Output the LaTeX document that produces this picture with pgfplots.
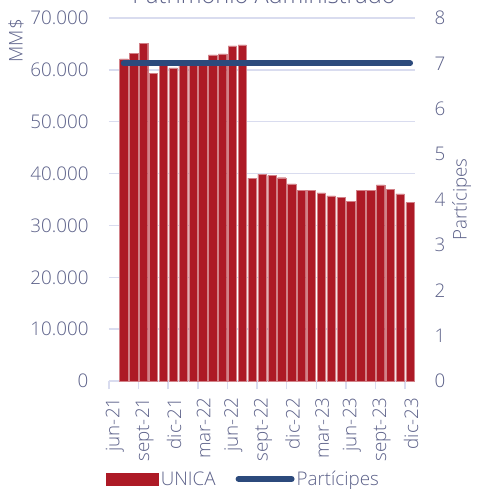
\documentclass[border=0pt]{standalone}
\usepackage{pgfplots}
\pgfplotsset{compat=1.18}
\usepackage{fontspec}
\setmainfont{Open Sans Light}
\definecolor{barred}{HTML}{AD1A26}
\definecolor{lineblue}{HTML}{2C4A7C}
\definecolor{txt}{HTML}{5C6189}
\definecolor{gridc}{HTML}{D9DCEF}
\begin{document}
\begin{tikzpicture}[font=\fontsize{18.8}{21}\selectfont]
\begin{axis}[
  scale only axis, width=306pt, height=363pt,
  xmin=0.5, xmax=31.5, ymin=0, ymax=70000,
  axis x line*=bottom, axis y line*=left,
  x axis line style={gridc, line width=1.5pt, -},
  y axis line style={draw=none},
  ybar, bar width=8.4pt,
  xtick={1,4,...,31},
  xticklabels={jun-21,sept-21,dic-21,mar-22,jun-22,sept-22,dic-22,mar-23,jun-23,sept-23,dic-23},
  x tick label style={rotate=90, anchor=east, text=txt, xshift=-13pt, yshift=-1pt},
  extra x ticks={0.5,3.5,...,30.5},
  extra x tick labels={},
  extra x tick style={major tick length=8pt, tick align=outside, tick style={gridc, line width=1.5pt}, grid=none},
  ytick={0,10000,...,70000},
  scaled y ticks=false,
  /pgf/number format/.cd, 1000 sep={.}, assume math mode=true, /pgfplots/.cd,
  y tick label style={text=txt, xshift=-17pt},
  major tick length=0pt,
  ymajorgrids, grid style={gridc, line width=1.5pt},
  clip=false,
]
\addplot[fill=barred, draw=barred!55!white, line width=0.3pt] coordinates {
(2,62100) (3,63200) (4,65100) (5,59300) (6,61000) (7,60400) (8,61000) (9,61100)
(10,61300) (11,62900) (12,63100) (13,64600) (14,64800) (15,39100) (16,39900)
(17,39600) (18,39200) (19,38000) (20,36800) (21,36800) (22,36300) (23,35700)
(24,35400) (25,34600) (26,36800) (27,36800) (28,37800) (29,37000) (30,36100)
(31,34400)};
\end{axis}
\begin{axis}[
  scale only axis, width=306pt, height=363pt,
  xmin=0.5, xmax=31.5, ymin=0, ymax=8,
  axis x line=none, axis y line*=right,
  y axis line style={draw=none},
  ytick={0,1,...,8},
  /pgf/number format/.cd, assume math mode=true, /pgfplots/.cd,
  major tick length=0pt,
  y tick label style={text=txt, xshift=16pt},
  ylabel={Partícipes}, ylabel style={text=txt},
  legend columns=2,
  legend style={at={(0.44,-0.27)}, anchor=center, draw=none, fill=none, text=txt,
    /tikz/every even column/.append style={column sep=18pt}},
  legend cell align=left,
  clip=false,
]
\addlegendimage{legend image code/.code={\fill[barred] (-10pt,-6pt) rectangle (42pt,6pt);}}
\addlegendentry{UNICA}
\addplot[lineblue, line width=6pt, line cap=round,
  legend image code/.code={\draw[lineblue,line width=6pt,line cap=round] (-20pt,0pt) -- (33pt,0pt);}]
  coordinates {(2,7) (31,7)};
\addlegendentry{Partícipes}
\end{axis}
\node[rotate=90, anchor=east, text=txt, inner sep=0pt] at (-93pt,362pt) {MM\$};
\node[anchor=base, text=txt, font=\fontsize{23.5}{26}\selectfont] at (155pt,377pt) {Patrimonio Administrado};
\pgfresetboundingbox
\path[use as bounding box] (-109pt,-108pt) rectangle (373pt,381pt);
\end{tikzpicture}
\end{document}
